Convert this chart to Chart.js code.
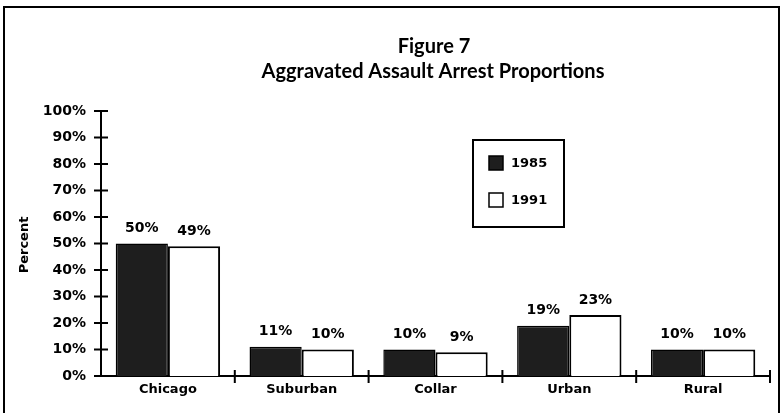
<!DOCTYPE html>
<html>
<head>
<meta charset="utf-8">
<script src="https://cdn.jsdelivr.net/npm/chart.js@4/dist/chart.umd.min.js"></script>
<style>
  html, body { margin: 0; padding: 0; background: #fff; }
  #wrap { width: 781px; height: 413px; }
</style>
</head>
<body>
<div id="wrap"><canvas id="chart" width="781" height="413"></canvas></div>
<script>
const categories = ['Chicago', 'Suburban', 'Collar', 'Urban', 'Rural'];
const years = ['1985', '1991'];
const values1985 = [50, 11, 10, 19, 10];
const values1991 = [49, 10, 9, 23, 10];
const titleLines = ['Figure 7', 'Aggravated Assault Arrest Proportions'];
const yTitle = 'Percent';

const TITLE_FONT = 'Lato, "Open Sans", sans-serif';
const FONT = '"DejaVu Sans", sans-serif';

// frame, titles, crossing ticks, value labels and legend box
const decor = {
    id: 'decor',
    afterDraw(chart) {
        const ctx = chart.ctx;
        const x = chart.scales.x;
        const y = chart.scales.y;
        ctx.save();

        // outer frame
        ctx.strokeStyle = '#000';
        ctx.lineWidth = 2;
        ctx.beginPath();
        ctx.moveTo(4, 413);
        ctx.lineTo(4, 7);
        ctx.lineTo(779, 7);
        ctx.lineTo(779, 413);
        ctx.stroke();

        // titles
        ctx.fillStyle = '#000';
        ctx.textAlign = 'center';
        ctx.textBaseline = 'middle';
        ctx.font = 'bold 20px ' + TITLE_FONT;
        ctx.fillText(titleLines[0], 434, 47);
        ctx.fillText(titleLines[1], 433, 72);

        // y title
        ctx.save();
        ctx.translate(25, 245);
        ctx.rotate(-Math.PI / 2);
        ctx.font = 'bold 13px ' + FONT;
        ctx.fillText(yTitle, 0, 0);
        ctx.restore();

        // y ticks crossing the axis
        ctx.lineWidth = 2;
        ctx.beginPath();
        y.ticks.forEach(t => {
            const py = y.getPixelForValue(t.value);
            ctx.moveTo(x.left - 7, py);
            ctx.lineTo(x.left + 7, py);
        });
        // x ticks at category boundaries
        const step = (x.right - x.left) / categories.length;
        for (let i = 1; i <= categories.length; i++) {
            const px = x.left + i * step;
            ctx.moveTo(px, y.bottom - 6);
            ctx.lineTo(px, y.bottom + 7);
        }
        ctx.stroke();

        // value labels
        ctx.font = 'bold 14px ' + FONT;
        chart.data.datasets.forEach((ds, di) => {
            chart.getDatasetMeta(di).data.forEach((bar, i) => {
                ctx.fillText(ds.data[i] + '%', bar.x, bar.y - 15);
            });
        });

        // legend box
        const lx = 473, ly = 140, lw = 91, lh = 87;
        ctx.lineWidth = 2;
        ctx.strokeRect(lx, ly, lw, lh);
        ctx.textAlign = 'left';
        ctx.font = 'bold 13px ' + FONT;
        chart.data.datasets.forEach((ds, di) => {
            const cy = ly + 23 + di * 37;
            ctx.fillStyle = ds.backgroundColor;
            ctx.fillRect(lx + 16, cy - 7, 14, 14);
            ctx.lineWidth = 1.5;
            ctx.strokeStyle = '#000';
            ctx.strokeRect(lx + 16, cy - 7, 14, 14);
            ctx.fillStyle = '#000';
            ctx.fillText(ds.label, lx + 38, cy + 1);
        });

        ctx.restore();
    }
};

new Chart(document.getElementById('chart'), {
    type: 'bar',
    data: {
        labels: categories,
        datasets: [
            {
                label: years[0],
                data: values1985,
                backgroundColor: '#1e1e1e',
                borderColor: '#000',
                borderWidth: 1.5,
                categoryPercentage: 0.78,
                barPercentage: 1.0
            },
            {
                label: years[1],
                data: values1991,
                backgroundColor: '#ffffff',
                borderColor: '#000',
                borderWidth: 2,
                categoryPercentage: 0.78,
                barPercentage: 1.0
            }
        ]
    },
    options: {
        responsive: false,
        animation: false,
        layout: { padding: { left: 0, right: 11, top: 111, bottom: 0 } },
        plugins: {
            legend: { display: false },
            title: { display: false },
            tooltip: { enabled: false }
        },
        scales: {
            x: {
                grid: { display: false, drawTicks: false },
                border: { display: true, color: '#000', width: 2 },
                ticks: {
                    color: '#000',
                    padding: 6,
                    font: { family: FONT, size: 13, weight: 'bold' }
                },
                afterFit: s => { s.height = 37; }
            },
            y: {
                min: 0,
                max: 100,
                grid: { display: false, drawTicks: false },
                border: { display: true, color: '#000', width: 2 },
                ticks: {
                    stepSize: 10,
                    color: '#000',
                    padding: 15,
                    font: { family: FONT, size: 14, weight: 'bold' },
                    callback: v => v + '%'
                },
                afterFit: s => { s.width = 101; }
            }
        }
    },
    plugins: [decor]
});
</script>
</body>
</html>
